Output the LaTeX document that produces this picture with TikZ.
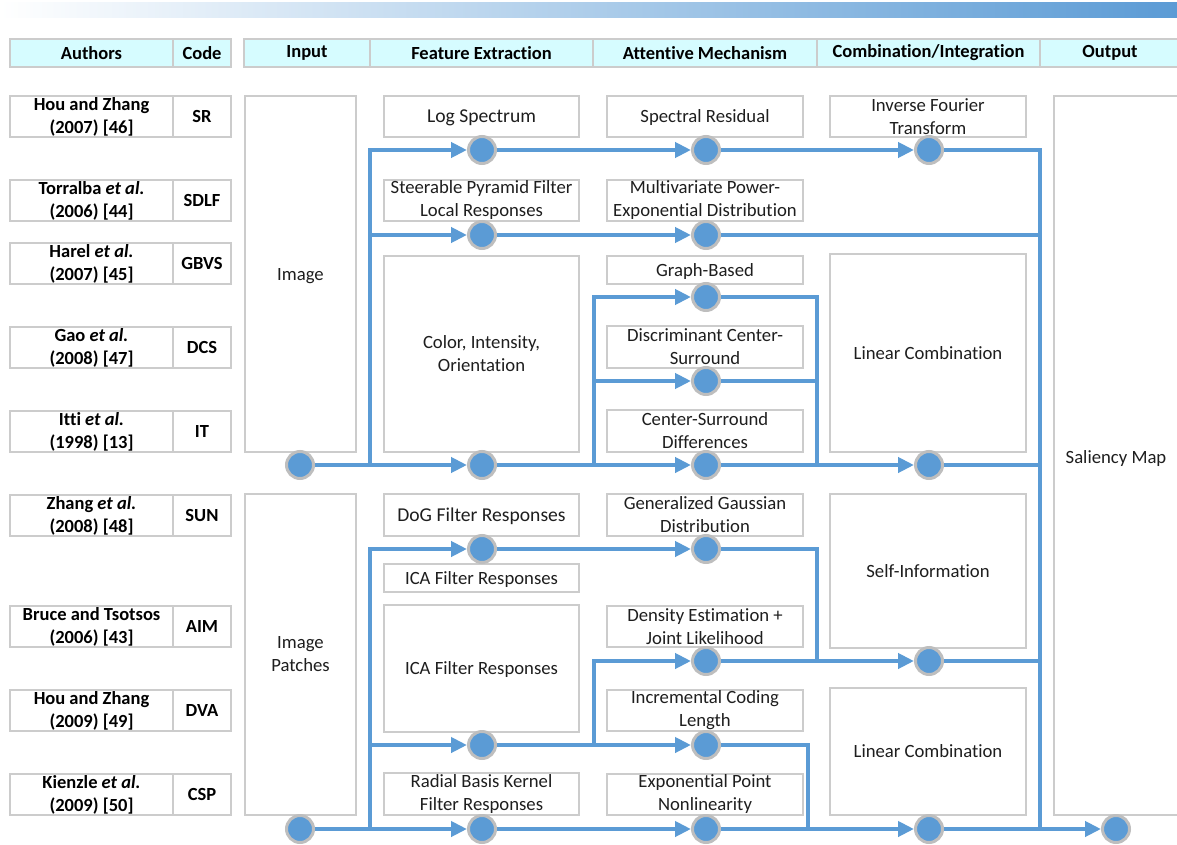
\documentclass[tikz,border=0pt]{standalone}
\usepackage{fontspec}
\setmainfont[Ligatures=NoCommon]{Carlito}
\usetikzlibrary{arrows.meta}
\definecolor{flowblue}{RGB}{91,155,213}
\definecolor{ringgray}{RGB}{190,190,190}
\definecolor{boxgray}{RGB}{204,204,204}
\definecolor{headfill}{RGB}{214,252,255}
\definecolor{txt}{RGB}{30,30,30}
\begin{document}
\begin{tikzpicture}[x=1pt,y=-1pt,
 box/.style={draw=boxgray, line width=1.3pt, fill=white, inner sep=1pt, align=center, font=\fontsize{18.7}{23}\selectfont, text=txt},
 big/.style={font=\fontsize{19.6}{23}\selectfont},
 one/.style={text height=16pt, text depth=4pt},
 head/.style={draw=boxgray, line width=1.3pt, fill=headfill, minimum height=28pt, inner sep=0pt, font=\fontsize{18.5}{21}\selectfont\bfseries, text=black},
 auth/.style={box, font=\fontsize{18.5}{23}\selectfont\bfseries, text=black, minimum height=41pt, minimum width=163pt},
 codebox/.style={box, font=\fontsize{18.5}{23}\selectfont\bfseries, text=black, minimum height=41pt, minimum width=58pt},
 fe/.style={box, minimum width=195pt},
 am/.style={box, minimum width=196pt},
 cb/.style={box, minimum width=196pt},
 dot/.style={circle, fill=flowblue, draw=ringgray, line width=3pt, minimum size=27pt, inner sep=0pt},
 flow/.style={draw=flowblue, line width=4pt},
 arr/.style={flow, -{Triangle[length=16pt,width=15pt]}},
]
\useasboundingbox (0,0) rectangle (1177,845);
% top gradient bar
\shade[left color=white, right color=flowblue] (0,3) rectangle (1177,18);

% header
\node[head, minimum width=163pt] (hA) at (91.5,53) {Authors};
\node[head, minimum width=58pt] (hC) at (202,53) {Code};
\node[head, minimum width=126pt] (hI) at (307,53) {Input};
\node[head, minimum width=223pt] (hF) at (481.5,53) {Feature Extraction};
\node[head, minimum width=224pt] (hM) at (705,53) {Attentive Mechanism};
\node[head, minimum width=223pt] (hK) at (928.5,53) {Combination/Integration};
\node[head, minimum width=140pt] (hO) at (1110,53) {Output};

% authors and codes
\node[auth] (au1) at (91.5,116.5) {Hou and Zhang\\(2007) [46]};
\node[codebox] (co1) at (202,116.5) {SR};
\node[auth] (au2) at (91.5,200.5) {Torralba \textit{et al.}\\(2006) [44]};
\node[codebox] (co2) at (202,200.5) {SDLF};
\node[auth] (au3) at (91.5,263.5) {Harel \textit{et al.}\\(2007) [45]};
\node[codebox] (co3) at (202,263.5) {GBVS};
\node[auth] (au4) at (91.5,347.5) {Gao \textit{et al.}\\(2008) [47]};
\node[codebox] (co4) at (202,347.5) {DCS};
\node[auth] (au5) at (91.5,431.5) {Itti \textit{et al.}\\(1998) [13]};
\node[codebox] (co5) at (202,431.5) {IT};
\node[auth] (au6) at (91.5,515.5) {Zhang \textit{et al.}\\(2008) [48]};
\node[codebox] (co6) at (202,515.5) {SUN};
\node[auth] (au7) at (91.5,626.5) {Bruce and Tsotsos\\(2006) [43]};
\node[codebox] (co7) at (202,626.5) {AIM};
\node[auth] (au8) at (91.5,710.5) {Hou and Zhang\\(2009) [49]};
\node[codebox] (co8) at (202,710.5) {DVA};
\node[auth] (au9) at (91.5,794.5) {Kienzle \textit{et al.}\\(2009) [50]};
\node[codebox] (co9) at (202,794.5) {CSP};

% input
\node[box, one, minimum width=111pt, minimum height=356pt] (inImg) at (300.5,274) {Image};
\node[box, minimum width=111pt, minimum height=321pt] (inPat) at (300.5,654.5) {Image\\Patches};

% feature extraction
\node[fe, big, one, minimum height=41pt] (f1) at (481.5,116.5) {Log Spectrum};
\node[fe, minimum height=41pt] (f2) at (481.5,200.5) {Steerable Pyramid Filter\\Local Responses};
\node[fe, minimum height=196pt] (f3) at (481.5,354) {Color, Intensity,\\Orientation};
\node[fe, big, one, minimum height=42pt] (f4) at (481.5,515) {DoG Filter Responses};
\node[fe, one, minimum height=28pt] (f5) at (481.5,578) {ICA Filter Responses};
\node[fe, one, minimum height=127pt] (f6) at (481.5,668.5) {ICA Filter Responses};
\node[fe, minimum height=42pt] (f7) at (481.5,794) {Radial Basis Kernel\\Filter Responses};

% attentive mechanism
\node[am, one, minimum height=41pt] (m1) at (705,116.5) {Spectral Residual};
\node[am, minimum height=41pt] (m2) at (705,200.5) {Multivariate Power-\\Exponential Distribution};
\node[am, one, minimum height=28pt] (m3) at (705,270) {Graph-Based};
\node[am, minimum height=42pt] (m4) at (705,347) {Discriminant Center-\\Surround};
\node[am, minimum height=42pt] (m5) at (705,431) {Center-Surround\\Differences};
\node[am, minimum height=42pt] (m6) at (705,515) {Generalized Gaussian\\Distribution};
\node[am, minimum height=41pt] (m7) at (705,626.5) {Density Estimation +\\Joint Likelihood};
\node[am, minimum height=41pt] (m8) at (705,710.5) {Incremental Coding\\Length};
\node[am, minimum height=41pt] (m9) at (705,794.5) {Exponential Point\\Nonlinearity};

% combination
\node[cb, minimum height=41pt] (k1) at (928,116.5) {Inverse Fourier\\Transform};
\node[cb, one, minimum height=198pt] (k2) at (928,353) {Linear Combination};
\node[cb, one, minimum height=154pt] (k3) at (928,571) {Self-Information};
\node[cb, one, minimum height=127pt] (k4) at (928,751.5) {Linear Combination};

% output
\draw[draw=boxgray, line width=1.3pt, fill=white] (1054,96) rectangle (1190,815);
\node[font=\fontsize{18.7}{23}\selectfont, text=txt, one] (outTxt) at (1116,457) {Saliency Map};

% dots
\node[dot] (in1) at (300,465) {};
\node[dot] (in2) at (300,829) {};
\node[dot] (a1) at (482,150) {};
\node[dot] (a2) at (706,150) {};
\node[dot] (a3) at (929,150) {};
\node[dot] (b1) at (482,235) {};
\node[dot] (b2) at (706,235) {};
\node[dot] (g2) at (706,297) {};
\node[dot] (d2) at (706,381) {};
\node[dot] (i1) at (482,465) {};
\node[dot] (i2) at (706,465) {};
\node[dot] (i3) at (929,465) {};
\node[dot] (s1) at (482,549) {};
\node[dot] (s2) at (706,549) {};
\node[dot] (q2) at (706,661) {};
\node[dot] (q3) at (929,661) {};
\node[dot] (v1) at (482,745) {};
\node[dot] (v2) at (706,745) {};
\node[dot] (p1) at (482,829) {};
\node[dot] (p2) at (706,829) {};
\node[dot] (p3) at (929,829) {};
\node[dot] (out) at (1116,829) {};

% junctions
\coordinate (j1) at (370,465);
\coordinate (c235) at (370,235);
\coordinate (k465) at (594,465);
\coordinate (k381) at (594,381);
\coordinate (m465) at (817,465);
\coordinate (m381) at (817,381);
\coordinate (r235) at (1040,235);
\coordinate (r465) at (1040,465);
\coordinate (r661) at (1040,661);
\coordinate (r829) at (1040,829);
\coordinate (j2) at (370,829);
\coordinate (j745) at (370,745);
\coordinate (h745) at (594,745);
\coordinate (n661) at (817,661);
\coordinate (w829) at (808,829);

% top flows
\draw[arr] (in1) -- (i1);
\draw[arr] (j1) |- (a1);
\draw[arr] (c235) -- (b1);
\draw[arr] (a1) -- (a2);
\draw[arr] (a2) -- (a3);
\draw[flow] (a3) -| (r829);
\draw[arr] (b1) -- (b2);
\draw[flow] (b2) -- (r235);
\draw[arr] (i1) -- (i2);
\draw[arr] (i2) -- (i3);
\draw[flow] (i3) -- (r465);
\draw[arr] (k465) |- (g2);
\draw[arr] (k381) -- (d2);
\draw[flow] (g2) -| (m465);
\draw[flow] (d2) -- (m381);

% bottom flows
\draw[arr] (in2) -- (p1);
\draw[arr] (j2) |- (s1);
\draw[arr] (j745) -- (v1);
\draw[arr] (s1) -- (s2);
\draw[flow] (s2) -| (n661);
\draw[arr] (v1) -- (v2);
\draw[arr] (h745) |- (q2);
\draw[arr] (q2) -- (q3);
\draw[flow] (q3) -- (r661);
\draw[flow] (v2) -| (w829);
\draw[arr] (p1) -- (p2);
\draw[arr] (p2) -- (p3);
\draw[flow] (p3) -- (r829);
\draw[arr] (r829) -- (out);
\end{tikzpicture}
\end{document}
